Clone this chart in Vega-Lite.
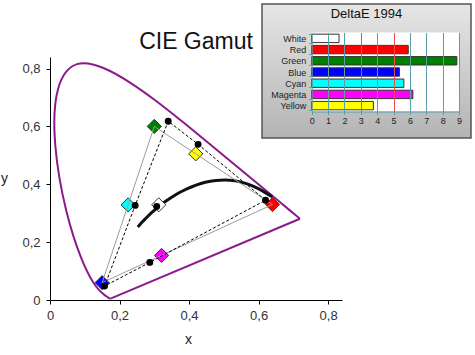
{
  "$schema": "https://vega.github.io/schema/vega-lite/v6.json",
  "width": 292,
  "height": 243,
  "autosize": {"type": "none"},
  "padding": {"left": 50, "top": 57, "right": 133, "bottom": 55},
  "background": "white",
  "config": {"font": "Liberation Sans", "view": {"stroke": null}},
  "title": {"text": "CIE Gamut", "fontSize": 23, "fontWeight": "normal", "color": "#111", "frame": "group", "anchor": "middle", "baseline": "alphabetic", "dy": 73},
  "datasets": {
    "locus": [
      {"nm": 380, "x": 0.1741, "y": 0.0050}, {"nm": 390, "x": 0.1738, "y": 0.0049},
      {"nm": 400, "x": 0.1733, "y": 0.0048}, {"nm": 410, "x": 0.1726, "y": 0.0048},
      {"nm": 420, "x": 0.1714, "y": 0.0051}, {"nm": 430, "x": 0.1689, "y": 0.0069},
      {"nm": 440, "x": 0.1644, "y": 0.0109}, {"nm": 450, "x": 0.1566, "y": 0.0177},
      {"nm": 460, "x": 0.1440, "y": 0.0297}, {"nm": 470, "x": 0.1241, "y": 0.0578},
      {"nm": 480, "x": 0.0913, "y": 0.1327}, {"nm": 490, "x": 0.0454, "y": 0.2950},
      {"nm": 500, "x": 0.0082, "y": 0.5384}, {"nm": 510, "x": 0.0139, "y": 0.7502},
      {"nm": 520, "x": 0.0743, "y": 0.8338}, {"nm": 530, "x": 0.1547, "y": 0.8059},
      {"nm": 540, "x": 0.2296, "y": 0.7543}, {"nm": 550, "x": 0.3016, "y": 0.6923},
      {"nm": 560, "x": 0.3731, "y": 0.6245}, {"nm": 570, "x": 0.4441, "y": 0.5547},
      {"nm": 580, "x": 0.5125, "y": 0.4866}, {"nm": 590, "x": 0.5752, "y": 0.4242},
      {"nm": 600, "x": 0.6270, "y": 0.3725}, {"nm": 610, "x": 0.6658, "y": 0.3340},
      {"nm": 620, "x": 0.6915, "y": 0.3083}, {"nm": 630, "x": 0.7079, "y": 0.2920},
      {"nm": 640, "x": 0.7190, "y": 0.2809}
    ],
    "purple": [
      {"end": 1, "x": 0.7190, "y": 0.2809},
      {"end": 2, "x": 0.1741, "y": 0.0050}
    ],
    "planck": [
      {"T": 25000, "x": 0.2525, "y": 0.2522}, {"T": 20000, "x": 0.2565, "y": 0.2577},
      {"T": 15000, "x": 0.2637, "y": 0.2675}, {"T": 12000, "x": 0.2719, "y": 0.2779},
      {"T": 10000, "x": 0.2807, "y": 0.2884}, {"T": 9000, "x": 0.2869, "y": 0.2956},
      {"T": 8000, "x": 0.2952, "y": 0.3048}, {"T": 7000, "x": 0.3064, "y": 0.3166},
      {"T": 6500, "x": 0.3135, "y": 0.3236}, {"T": 6000, "x": 0.3221, "y": 0.3318},
      {"T": 5500, "x": 0.3325, "y": 0.3411}, {"T": 5000, "x": 0.3451, "y": 0.3516},
      {"T": 4500, "x": 0.3608, "y": 0.3636}, {"T": 4000, "x": 0.3805, "y": 0.3768},
      {"T": 3500, "x": 0.4053, "y": 0.3907}, {"T": 3000, "x": 0.4369, "y": 0.4041},
      {"T": 2800, "x": 0.4521, "y": 0.4086}, {"T": 2500, "x": 0.4770, "y": 0.4137},
      {"T": 2200, "x": 0.5056, "y": 0.4152}, {"T": 2000, "x": 0.5267, "y": 0.4133},
      {"T": 1800, "x": 0.5492, "y": 0.4082}, {"T": 1600, "x": 0.5732, "y": 0.3993},
      {"T": 1500, "x": 0.5857, "y": 0.3931}, {"T": 1400, "x": 0.5985, "y": 0.3858},
      {"T": 1200, "x": 0.6251, "y": 0.3674}, {"T": 1100, "x": 0.6390, "y": 0.3565}
    ],
    "points": [
      {"name": "Red", "set": "target", "ord": 1, "x": 0.64, "y": 0.33},
      {"name": "Yellow", "set": "target", "ord": 2, "x": 0.4193, "y": 0.5053},
      {"name": "Green", "set": "target", "ord": 3, "x": 0.30, "y": 0.60},
      {"name": "Cyan", "set": "target", "ord": 4, "x": 0.2247, "y": 0.3287},
      {"name": "Blue", "set": "target", "ord": 5, "x": 0.15, "y": 0.06},
      {"name": "Magenta", "set": "target", "ord": 6, "x": 0.3209, "y": 0.1542},
      {"name": "White", "set": "target", "ord": 0, "x": 0.3127, "y": 0.3290},
      {"name": "Red", "set": "measured", "ord": 1, "x": 0.620, "y": 0.345},
      {"name": "Yellow", "set": "measured", "ord": 2, "x": 0.426, "y": 0.538},
      {"name": "Green", "set": "measured", "ord": 3, "x": 0.340, "y": 0.618},
      {"name": "Cyan", "set": "measured", "ord": 4, "x": 0.245, "y": 0.327},
      {"name": "Blue", "set": "measured", "ord": 5, "x": 0.157, "y": 0.048},
      {"name": "Magenta", "set": "measured", "ord": 6, "x": 0.287, "y": 0.130},
      {"name": "White", "set": "measured", "ord": 0, "x": 0.307, "y": 0.323}
    ],
    "deltae": [
      {"name": "White", "deltaE": 1.67}, {"name": "Red", "deltaE": 5.9},
      {"name": "Green", "deltaE": 8.87}, {"name": "Blue", "deltaE": 5.36},
      {"name": "Cyan", "deltaE": 5.63}, {"name": "Magenta", "deltaE": 6.18},
      {"name": "Yellow", "deltaE": 3.77}
    ]
  },
  "resolve": {"scale": {"x": "independent", "y": "independent"}, "axis": {"x": "independent", "y": "independent"}},
  "layer": [
    {
      "layer": [
        {
          "data": {"name": "locus"},
          "mark": {"type": "line", "interpolate": "basis", "color": "#8b1a8b", "strokeWidth": 2},
          "encoding": {
            "x": {"field": "x", "type": "quantitative", "scale": {"domain": [0, 0.84], "nice": false, "zero": false},
              "axis": {"orient": "bottom", "values": [0, 0.1, 0.2, 0.3, 0.4, 0.5, 0.6, 0.7, 0.8],
                "labelExpr": "datum.value == 0 ? '0' : replace(format(datum.value, '.1f'), '.', ',')",
                "title": "x", "grid": false, "domainColor": "#000", "tickColor": "#000", "tickSize": 4,
                "labelFontSize": 13, "labelColor": "#333", "labelPadding": 5, "labelFlush": false,
                "titleFontSize": 14, "titleFontWeight": "normal", "titleColor": "#222",
                "titleX": 138, "titleY": 43, "titleAlign": "center", "titleBaseline": "alphabetic"}},
            "y": {"field": "y", "type": "quantitative", "scale": {"domain": [0, 0.84], "nice": false, "zero": false},
              "axis": {"orient": "left", "values": [0, 0.1, 0.2, 0.3, 0.4, 0.5, 0.6, 0.7, 0.8],
                "labelExpr": "datum.value == 0 ? '0' : replace(format(datum.value, '.1f'), '.', ',')",
                "title": "y", "grid": false, "domainColor": "#000", "tickColor": "#000", "tickSize": 4,
                "labelFontSize": 13, "labelColor": "#333", "labelPadding": 6,
                "titleFontSize": 14, "titleFontWeight": "normal", "titleColor": "#222", "titleAngle": 0,
                "titleX": -46, "titleY": 125, "titleAlign": "center", "titleBaseline": "alphabetic"}},
            "order": {"field": "nm"}
          }
        },
        {
          "data": {"name": "purple"},
          "mark": {"type": "line", "color": "#8b1a8b", "strokeWidth": 2},
          "encoding": {
            "x": {"field": "x", "type": "quantitative"},
            "y": {"field": "y", "type": "quantitative"},
            "order": {"field": "end"}
          }
        },
        {
          "data": {"name": "planck"},
          "mark": {"type": "line", "interpolate": "basis", "color": "#111", "strokeWidth": 3},
          "encoding": {
            "x": {"field": "x", "type": "quantitative"},
            "y": {"field": "y", "type": "quantitative"},
            "order": {"field": "T", "sort": "descending"}
          }
        },
        {
          "data": {"name": "points"},
          "transform": [{"filter": "datum.set == 'target'"}],
          "mark": {"type": "point", "shape": "diamond", "filled": true, "size": 200, "stroke": "#333", "strokeWidth": 1, "opacity": 1},
          "encoding": {
            "x": {"field": "x", "type": "quantitative"},
            "y": {"field": "y", "type": "quantitative"},
            "color": {"field": "name", "type": "nominal",
              "scale": {"domain": ["White", "Red", "Green", "Blue", "Cyan", "Magenta", "Yellow"],
                "range": ["#ffffff", "#ff0000", "#008000", "#0000ff", "#00ffff", "#ff00ff", "#ffff00"]},
              "legend": null}
          }
        },
        {
          "data": {"name": "points"},
          "transform": [{"filter": "datum.set == 'target' && datum.name != 'White'"}],
          "mark": {"type": "line", "interpolate": "linear-closed", "color": "#9c9c9c", "strokeWidth": 1},
          "encoding": {
            "x": {"field": "x", "type": "quantitative"},
            "y": {"field": "y", "type": "quantitative"},
            "order": {"field": "ord"}
          }
        },
        {
          "data": {"name": "points"},
          "transform": [{"filter": "datum.set == 'measured' && datum.name != 'White'"}],
          "mark": {"type": "line", "interpolate": "linear-closed", "color": "#000", "strokeWidth": 1, "strokeDash": [3, 2]},
          "encoding": {
            "x": {"field": "x", "type": "quantitative"},
            "y": {"field": "y", "type": "quantitative"},
            "order": {"field": "ord"}
          }
        },
        {
          "data": {"name": "points"},
          "transform": [{"filter": "datum.set == 'measured'"}],
          "mark": {"type": "circle", "size": 48, "color": "#000", "opacity": 1},
          "encoding": {
            "x": {"field": "x", "type": "quantitative"},
            "y": {"field": "y", "type": "quantitative"}
          }
        }
      ]
    },
    {
      "data": {"values": [{"title": "DeltaE 1994"}]},
      "layer": [
        {
          "mark": {"type": "rect", "stroke": "#555", "strokeWidth": 1.5,
            "fill": {"x1": 0, "y1": 0, "x2": 0, "y2": 1, "gradient": "linear",
              "stops": [{"offset": 0, "color": "#e6e6e6"}, {"offset": 1, "color": "#b4b4b4"}]}},
          "encoding": {
            "x": {"datum": 0, "type": "quantitative", "scale": {"domain": [0, 1], "range": [212, 421], "nice": false, "zero": false}, "axis": null},
            "x2": {"datum": 1},
            "y": {"datum": 0, "type": "quantitative", "scale": {"domain": [0, 1], "range": [-53, 81], "nice": false, "zero": false}, "axis": null},
            "y2": {"datum": 1}
          }
        },
        {
          "mark": {"type": "text", "fontSize": 13, "color": "#111", "baseline": "alphabetic", "align": "center"},
          "encoding": {
            "x": {"datum": 0.5, "type": "quantitative"},
            "y": {"datum": 0.105, "type": "quantitative"},
            "text": {"field": "title"}
          }
        }
      ]
    },
    {
      "data": {"values": [{"area": "plot"}]},
      "mark": {"type": "rect", "fill": "#ffffff"},
      "encoding": {
        "x": {"datum": 0, "type": "quantitative", "scale": {"domain": [0, 9], "range": [261.7, 409], "nice": false, "zero": false},
          "axis": {"orient": "bottom", "offset": -188.5, "values": [1, 2, 3, 4, 5, 6, 7, 8, 9], "tickSize": -79,
            "tickColor": {"condition": {"test": "datum.value == 3 || datum.value == 5", "value": "#e8504f"}, "value": "#5c9ea3"},
            "tickWidth": 1, "labels": false, "domain": false, "grid": false, "title": null, "zindex": 1}},
        "x2": {"datum": 9},
        "y": {"datum": 0, "type": "quantitative", "scale": {"domain": [0, 1], "range": [-24.5, 54.5], "nice": false, "zero": false}, "axis": null},
        "y2": {"datum": 1}
      }
    },
    {
      "data": {"name": "deltae"},
      "mark": {"type": "bar", "stroke": "#333", "strokeWidth": 1},
      "encoding": {
        "x": {"field": "deltaE", "type": "quantitative", "scale": {"domain": [0, 9], "range": [261.7, 409], "nice": false, "zero": false},
          "axis": {"orient": "bottom", "offset": -188.5, "values": [0, 1, 2, 3, 4, 5, 6, 7, 8, 9], "tickSize": 3,
            "tickColor": "#5c9ea3", "domainColor": "#5c9ea3", "labelFontSize": 9, "labelColor": "#222", "labelPadding": 2,
            "labelFlush": false, "grid": false, "title": null, "zindex": 1}},
        "y": {"field": "name", "type": "nominal",
          "scale": {"type": "band", "domain": ["White", "Red", "Green", "Blue", "Cyan", "Magenta", "Yellow"], "range": [-24.5, 54.5], "paddingInner": 0.25, "paddingOuter": 0.15},
          "axis": {"orient": "left", "offset": -261.7, "tickBand": "extent", "tickSize": 3, "tickColor": "#5c9ea3", "domainColor": "#5c9ea3",
            "labelFontSize": 9, "labelColor": "#222", "labelPadding": 3, "grid": false, "title": null, "zindex": 1}},
        "color": {"field": "name", "type": "nominal",
          "scale": {"domain": ["White", "Red", "Green", "Blue", "Cyan", "Magenta", "Yellow"],
            "range": ["#ffffff", "#ff0000", "#008000", "#0000ff", "#00ffff", "#ff00ff", "#ffff00"]},
          "legend": null}
      }
    }
  ]
}
